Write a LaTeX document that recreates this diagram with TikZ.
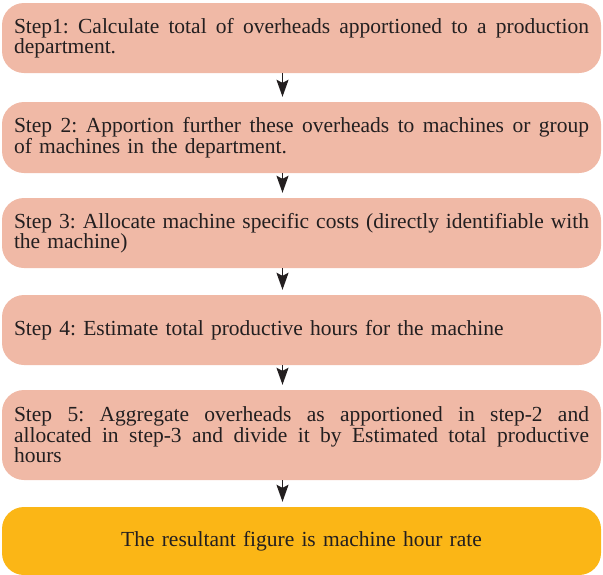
\documentclass[tikz,border=0pt]{standalone}
\usepackage{fontspec}
\setmainfont{Liberation Serif}
\usetikzlibrary{arrows.meta}
\definecolor{boxpink}{RGB}{240,185,166}
\definecolor{boxorange}{RGB}{251,182,22}
\definecolor{ink}{RGB}{35,31,32}
\newcommand{\jl}[1]{\leavevmode\hbox to 575pt{\spaceskip=0.25em plus 1fil\relax #1}}
\tikzset{
  stepbox/.style={fill=boxpink, rounded corners=22pt, minimum width=599pt,
    text width=575pt, align=left, inner xsep=12pt, inner ysep=0pt,
    text=ink, font=\fontsize{21.5}{20.5}\selectfont\frenchspacing, anchor=center},
  resultbox/.style={stepbox, fill=boxorange, align=center},
  arr/.style={draw=ink, line width=1.5pt, shorten >=5pt,
    -{Stealth[length=17pt,width=12pt,inset=3pt]}}
}
\begin{document}
\begin{tikzpicture}[x=1pt,y=-1pt]
\useasboundingbox (0,0) rectangle (603,574);
\node[stepbox, minimum height=70pt] (b1) at (301.5,38)
  {\jl{Step1: Calculate total of overheads apportioned to a production}\\department.};
\node[stepbox, minimum height=71pt] (b2) at (301.5,137.5)
  {\jl{Step 2: Apportion further these overheads to machines or group}\\of machines in the department.};
\node[stepbox, minimum height=70pt] (b3) at (301.5,233)
  {\jl{Step 3: Allocate machine specific costs (directly identifiable with}\\the machine)};
\node[stepbox, minimum height=70pt] (b4) at (301.5,330)
  {Step 4: Estimate total productive hours for the machine};
\node[stepbox, minimum height=90pt] (b5) at (301.5,435)
  {\jl{Step 5: Aggregate overheads as apportioned in step-2 and}\\\jl{allocated in step-3 and divide it by Estimated total productive}\\hours};
\node[resultbox, minimum height=68pt] (b6) at (301.5,541)
  {The resultant figure is machine hour rate};
\coordinate (ax) at (282.5,0);
\draw[arr] (b1.south -| ax) -- (b2.north -| ax);
\draw[arr] (b2.south -| ax) -- (b3.north -| ax);
\draw[arr] (b3.south -| ax) -- (b4.north -| ax);
\draw[arr] (b4.south -| ax) -- (b5.north -| ax);
\draw[arr] (b5.south -| ax) -- (b6.north -| ax);
\end{tikzpicture}
\end{document}
